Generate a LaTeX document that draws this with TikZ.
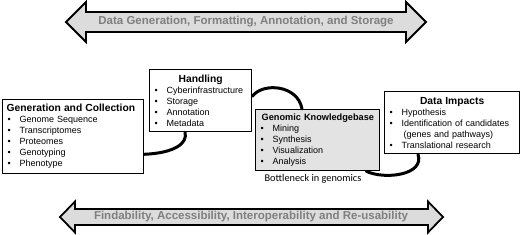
\documentclass[tikz,border=0pt]{standalone}
\usepackage{fontspec}
\setmainfont{Liberation Sans}
\newfontfamily\calfont{Carlito}
\usepackage{xcolor}
\setlength{\parindent}{0pt}

\definecolor{arrowfill}{HTML}{DCDCDC}
\definecolor{arrowtext}{HTML}{7F7F7F}
\definecolor{kbfill}{HTML}{E3E3E3}

\newcommand{\hd}{\fontsize{10.3}{11}\selectfont\bfseries}
\newcommand{\itm}[1]{\par\hspace*{1pt}\makebox[12pt][l]{\textbullet}#1}

\begin{document}
\begin{tikzpicture}[x=1pt, y=1pt,
    box/.style={draw=black, line width=1.3pt, fill=white, align=left,
      inner xsep=4pt, inner ysep=2pt, anchor=north west,
      font=\fontsize{9}{11}\selectfont},
    bigarrow/.style={draw=black, line width=1.8pt, fill=arrowfill, line join=miter},
    arrowtext/.style={text=arrowtext, font=\fontsize{11.5}{13}\selectfont\bfseries, inner sep=0pt},
    conn/.style={line width=3pt, line cap=round}]

  \useasboundingbox (0,0) rectangle (520,235);

  %--- top band ---
  \draw[bigarrow] (66,213) -- (86,233) -- (86,223) -- (406,223) -- (406,233)
    -- (426,213) -- (406,193) -- (406,203) -- (86,203) -- (86,193) -- cycle;
  \node[arrowtext] (storage) at (246,213) {Data Generation, Formatting, Annotation, and Storage};

  %--- the four stages ---
  \node[box, text width=133pt, minimum height=74pt] (gen) at (2,136) {%
    {\hd \mbox{Generation and Collection}\par}
    \itm{Genome Sequence}
    \itm{Transcriptomes}
    \itm{Proteomes}
    \itm{Genotyping}
    \itm{Phenotype}};

  \node[box, text width=94pt, minimum height=62pt] (hand) at (149,166) {%
    {\centering\hd Handling\par}
    \itm{Cyberinfrastructure}
    \itm{Storage}
    \itm{Annotation}
    \itm{Metadata}};

  \node[box, fill=kbfill, text width=116pt, minimum height=61pt, inner xsep=4pt] (kb) at (255,126) {%
    {\hd\fontsize{9.2}{11}\selectfont \hspace*{2pt}\mbox{Genomic Knowledgebase}\par}
    \itm{Mining}
    \itm{Synthesis}
    \itm{Visualization}
    \itm{Analysis}};

  \node[box, text width=127pt, minimum height=62pt] (impact) at (384,144) {%
    {\centering\hd Data Impacts\par}
    \itm{Hypothesis}
    \itm{Identification of candidates}
    \par\hspace*{15pt}(genes and pathways)
    \itm{Translational research}};

  \node[font=\calfont\fontsize{10.3}{12}\selectfont, inner sep=0pt] (bottleneck) at (313,56) {Bottleneck in genomics};

  %--- links between stages ---
  \draw[conn] ([yshift=20pt]gen.south east) .. controls (175,82) and (188,92) .. ([xshift=36pt]hand.south west);
  \draw[conn] ([yshift=36pt]hand.south east) .. controls (263,153) and (298,150) .. ([xshift=47pt]kb.north west);
  \draw[conn] ([xshift=-14pt]kb.south east) .. controls (385,55) and (425,60) .. ([xshift=34pt]impact.south west);

  %--- bottom band ---
  \draw[bigarrow] (60,18) -- (75,33.5) -- (75,26) -- (428,26) -- (428,33.5)
    -- (443,18) -- (428,2.5) -- (428,10) -- (75,10) -- (75,2.5) -- cycle;
  \node[arrowtext] (fair) at (251,18) {Findability, Accessibility, Interoperability and Re-usability};

\end{tikzpicture}
\end{document}
